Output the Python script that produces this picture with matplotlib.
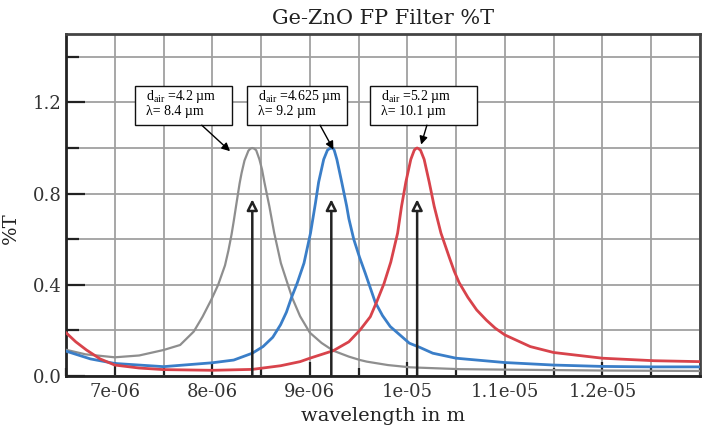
import matplotlib
matplotlib.use("Agg")
import matplotlib.pyplot as plt
from matplotlib.ticker import FixedLocator, MultipleLocator
from matplotlib.patches import Rectangle

# ---- data (wavelength in micrometres, transmission) ----
gray_wl = [6.5, 6.7, 7.0, 7.25, 7.5, 7.67, 7.81, 7.9, 7.99, 8.06, 8.13, 8.165, 8.197, 8.22, 8.247,
           8.28, 8.30, 8.33, 8.37, 8.39, 8.41, 8.43, 8.45, 8.483, 8.51, 8.534, 8.585, 8.635, 8.703,
           8.77, 8.82, 8.9, 9.0, 9.12, 9.24, 9.4, 9.515, 9.584, 9.8, 10.03, 10.54, 11.0, 12.0, 13.0]
gray_t = [0.115, 0.095, 0.082, 0.09, 0.114, 0.136, 0.195, 0.26, 0.335, 0.40, 0.485, 0.55, 0.62, 0.68, 0.755,
          0.845, 0.89, 0.945, 0.988, 0.997, 1.0, 0.997, 0.99, 0.95, 0.905, 0.85, 0.744, 0.627, 0.495,
          0.407, 0.342, 0.262, 0.19, 0.145, 0.111, 0.085, 0.07, 0.063, 0.048, 0.038, 0.03, 0.028, 0.024, 0.022]

blue_wl = [6.5, 6.75, 7.0, 7.5, 8.0, 8.22, 8.41, 8.52, 8.62, 8.70, 8.76, 8.81, 8.87, 8.94,
           9.007, 9.058, 9.09, 9.142, 9.18, 9.20, 9.22, 9.24, 9.25, 9.277, 9.327, 9.378, 9.40,
           9.45, 9.51, 9.568, 9.67, 9.745, 9.824, 10.02, 10.13, 10.26, 10.5, 11.0, 11.5, 12.0,
           12.5, 13.0]
blue_t = [0.109, 0.075, 0.055, 0.041, 0.058, 0.07, 0.10, 0.129, 0.17, 0.225, 0.28, 0.342, 0.407, 0.495,
          0.627, 0.76, 0.85, 0.95, 0.99, 0.997, 1.0, 0.997, 0.99, 0.95, 0.85, 0.744, 0.69,
          0.60, 0.52, 0.451, 0.324, 0.265, 0.217, 0.144, 0.125, 0.10, 0.078, 0.059, 0.048, 0.042,
          0.04, 0.04]

red_wl = [6.5, 6.6, 6.71, 6.85, 7.0, 7.25, 7.5, 8.0, 8.41, 8.7, 8.9, 9.0, 9.24, 9.4, 9.515,
          9.62, 9.69, 9.76, 9.83, 9.90, 9.94, 9.984, 10.035, 10.07, 10.085, 10.1, 10.115, 10.135,
          10.172, 10.224, 10.275, 10.344, 10.43, 10.48, 10.53, 10.62, 10.71, 10.81, 10.9, 11.0,
          11.26, 11.5, 12.0, 12.53, 13.0]
red_t = [0.19, 0.15, 0.114, 0.075, 0.048, 0.035, 0.028, 0.025, 0.029, 0.045, 0.063, 0.078, 0.111, 0.15, 0.202,
         0.26, 0.33, 0.405, 0.50, 0.627, 0.744, 0.85, 0.95, 0.99, 0.997, 1.0, 0.997, 0.99,
         0.95, 0.85, 0.744, 0.627, 0.52, 0.46, 0.41, 0.345, 0.29, 0.245, 0.21, 0.18,
         0.129, 0.103, 0.078, 0.067, 0.063]

peak_wl = [8.41, 9.22, 10.1]          # vertical arrows
arrow_top = 0.775
d_air = ["4.2", "4.625", "5.2"]
lam_label = ["8.4", "9.2", "10.1"]

xtick_vals = [7e-6, 8e-6, 9e-6, 1e-5, 1.1e-5, 1.2e-5]
xtick_labels = ["7e-06", "8e-06", "9e-06", "1e-05", "1.1e-05", "1.2e-05"]
ytick_vals = [0.0, 0.4, 0.8, 1.2]
ytick_labels = ["0.0", "0.4", "0.8", "1.2"]

um = 1e-6
plt.rcParams['mathtext.fontset'] = 'custom'
plt.rcParams['mathtext.rm'] = 'Liberation Serif'

fig = plt.figure(figsize=(7.08, 4.26), dpi=100)
ax = fig.add_axes([66/708, 50/426, 634/708, 342/426])

ax.set_xlim(6.5e-6, 13e-6)
ax.set_ylim(0, 1.5)

# grid
ax.xaxis.set_major_locator(FixedLocator(xtick_vals))
ax.xaxis.set_minor_locator(MultipleLocator(0.5e-6))
ax.yaxis.set_major_locator(FixedLocator(ytick_vals))
ax.yaxis.set_minor_locator(MultipleLocator(0.2))
ax.set_xticklabels(xtick_labels)
ax.set_yticklabels(ytick_labels)
ax.grid(True, which='both', color='#a0a0a0', lw=1.3, zorder=0)
ax.set_axisbelow(True)

ax.tick_params(axis='both', which='both', direction='in', color='#222222', width=1.6,
               labelsize=13, top=False, right=False)
ax.tick_params(axis='x', which='major', length=10, pad=5)
ax.tick_params(axis='x', which='minor', length=6)
ax.tick_params(axis='y', which='major', length=14, pad=3)
ax.tick_params(axis='y', which='minor', length=9)
for lab in ax.get_xticklabels() + ax.get_yticklabels():
    lab.set_family('DejaVu Serif')
    lab.set_color('#333333')

for s in ax.spines.values():
    s.set_linewidth(2.0)
    s.set_color('#444444')
ax.spines['left'].set_color('#222222')
ax.spines['bottom'].set_color('#222222')

# curves
ax.plot([w * um for w in gray_wl], gray_t, color='#8e8e8e', lw=1.6, zorder=3)
ax.plot([w * um for w in blue_wl], blue_t, color='#3a7ec8', lw=2.0, zorder=3)
ax.plot([w * um for w in red_wl], red_t, color='#d8434b', lw=2.0, zorder=3)

# vertical arrows with open heads
for w in peak_wl:
    ax.annotate('', xy=(w * um, arrow_top), xytext=(w * um, 0.0),
                arrowprops=dict(arrowstyle='-|>', fc='white', ec='#222222', lw=1.8,
                                mutation_scale=16, shrinkA=0, shrinkB=0), zorder=4)

# annotation boxes
boxes = [(7.208, 8.20), (8.353, 9.379), (9.618, 10.712)]
arrow_from = [(7.892, 1.10), (9.105, 1.10), (10.2, 1.10)]
arrow_to = [(8.182, 0.986), (9.242, 0.993), (10.141, 1.015)]
for (x0, x1), d, l, fr, to in zip(boxes, d_air, lam_label, arrow_from, arrow_to):
    ax.add_patch(Rectangle((x0 * um, 1.103), (x1 - x0) * um, 0.169, fc='white',
                           ec='#111111', lw=1.0, zorder=5))
    ax.text((x0 + 0.115) * um, 1.224, r"d$_{\mathregular{air}}$ =" + d + " µm",
            family='Liberation Serif', fontsize=10, va='center', ha='left', zorder=6)
    ax.text((x0 + 0.115) * um, 1.158, "λ= " + l + " µm",
            family='Liberation Serif', fontsize=10, va='center', ha='left', zorder=6)
    ax.annotate('', xy=(to[0] * um, to[1]), xytext=(fr[0] * um, fr[1]),
                arrowprops=dict(arrowstyle='-|>', fc='black', ec='black', lw=1.0,
                                mutation_scale=12, shrinkA=0, shrinkB=0), zorder=6)

fig.text(383/708, 1 - 18/426, "Ge-ZnO FP Filter %T", family='DejaVu Serif', fontsize=15,
         ha='center', va='center', color='#222222')
ax.set_xlabel("wavelength in m", family='DejaVu Serif', fontsize=14, color='#222222')
ax.xaxis.set_label_coords(0.5, -0.09)
ax.set_ylabel("%T", family='DejaVu Serif', fontsize=14, color='#222222')
ax.yaxis.set_label_coords(-0.073, 0.433)

fig.savefig("out.png", dpi=100)
